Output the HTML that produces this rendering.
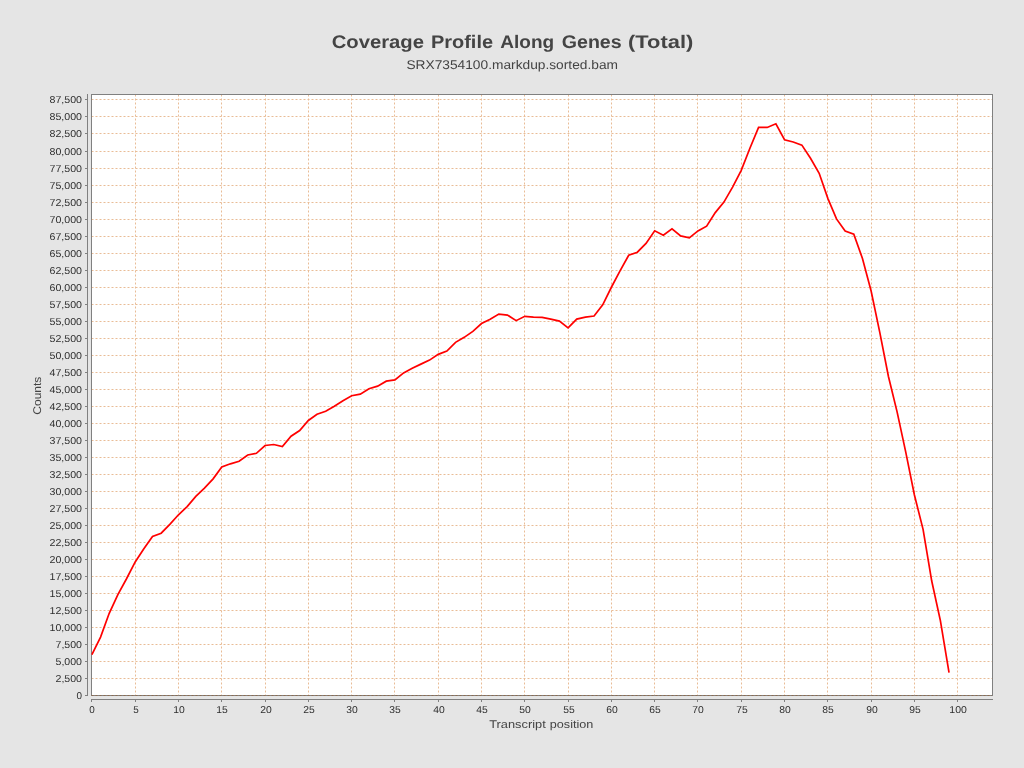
<!DOCTYPE html>
<html><head><meta charset="utf-8"><style>
html,body{margin:0;padding:0;width:1024px;height:768px;overflow:hidden;background:#e5e5e5;}
svg text{font-family:"Liberation Sans", sans-serif;text-rendering:geometricPrecision;}
</style></head><body>
<svg width="1024" height="768" viewBox="0 0 1024 768" style="position:absolute;left:0;top:0;will-change:transform"><rect x="91" y="94" width="902" height="602" fill="#ffffff"/><path d="M91.5 678.5H992 M91.5 661.5H992 M91.5 644.5H992 M91.5 627.5H992 M91.5 610.5H992 M91.5 593.5H992 M91.5 576.5H992 M91.5 559.5H992 M91.5 542.5H992 M91.5 525.5H992 M91.5 508.5H992 M91.5 491.5H992 M91.5 474.5H992 M91.5 457.5H992 M91.5 440.5H992 M91.5 423.5H992 M91.5 406.5H992 M91.5 389.5H992 M91.5 372.5H992 M91.5 355.5H992 M91.5 338.5H992 M91.5 321.5H992 M91.5 304.5H992 M91.5 287.5H992 M91.5 270.5H992 M91.5 253.5H992 M91.5 236.5H992 M91.5 219.5H992 M91.5 202.5H992 M91.5 185.5H992 M91.5 168.5H992 M91.5 151.5H992 M91.5 133.5H992 M91.5 116.5H992 M91.5 99.5H992" stroke="#e9bc96" stroke-width="1" stroke-dasharray="2 2" fill="none"/><path d="M135.5 94.5V695 M178.5 94.5V695 M221.5 94.5V695 M265.5 94.5V695 M308.5 94.5V695 M351.5 94.5V695 M394.5 94.5V695 M438.5 94.5V695 M481.5 94.5V695 M524.5 94.5V695 M568.5 94.5V695 M611.5 94.5V695 M654.5 94.5V695 M697.5 94.5V695 M741.5 94.5V695 M784.5 94.5V695 M827.5 94.5V695 M871.5 94.5V695 M914.5 94.5V695 M957.5 94.5V695" stroke="#e9bc96" stroke-width="1" stroke-dasharray="2 2" fill="none"/><path d="M91.5 94.5H992.5V695.5H91.5Z" stroke="#808080" stroke-width="1" fill="none" shape-rendering="crispEdges"/><path d="M91.5 695.5H992" stroke="#8e6c50" stroke-width="1" stroke-dasharray="2 2" fill="none"/><path d="M87.5 94V696 M91 699.5H993 M85 695.5H87 M85 678.5H87 M85 661.5H87 M85 644.5H87 M85 627.5H87 M85 610.5H87 M85 593.5H87 M85 576.5H87 M85 559.5H87 M85 542.5H87 M85 525.5H87 M85 508.5H87 M85 491.5H87 M85 474.5H87 M85 457.5H87 M85 440.5H87 M85 423.5H87 M85 406.5H87 M85 389.5H87 M85 372.5H87 M85 355.5H87 M85 338.5H87 M85 321.5H87 M85 304.5H87 M85 287.5H87 M85 270.5H87 M85 253.5H87 M85 236.5H87 M85 219.5H87 M85 202.5H87 M85 185.5H87 M85 168.5H87 M85 151.5H87 M85 133.5H87 M85 116.5H87 M85 99.5H87 M91.5 699V702 M135.5 699V702 M178.5 699V702 M221.5 699V702 M265.5 699V702 M308.5 699V702 M351.5 699V702 M394.5 699V702 M438.5 699V702 M481.5 699V702 M524.5 699V702 M568.5 699V702 M611.5 699V702 M654.5 699V702 M697.5 699V702 M741.5 699V702 M784.5 699V702 M827.5 699V702 M871.5 699V702 M914.5 699V702 M957.5 699V702" stroke="#808080" stroke-width="1" fill="none" shape-rendering="crispEdges"/><polyline points="91.90,654.65 100.56,637.11 109.22,613.33 117.87,594.54 126.53,578.76 135.19,561.98 143.85,548.71 152.51,536.43 161.16,533.18 169.82,524.31 178.48,514.77 187.14,506.60 195.80,496.37 204.45,488.10 213.11,478.84 221.77,467.07 230.43,463.81 239.09,461.30 247.74,455.04 256.40,453.29 265.06,445.53 273.72,444.53 282.38,446.53 291.03,436.26 299.69,430.51 308.35,420.49 317.01,414.23 325.67,411.22 334.32,406.21 342.98,400.70 351.64,395.69 360.30,394.19 368.96,388.68 377.61,386.17 386.27,381.17 394.93,379.91 403.59,372.90 412.25,368.31 420.90,364.14 429.56,360.12 438.22,354.37 446.88,351.11 455.54,342.35 464.19,337.34 472.85,331.33 481.51,323.56 490.17,319.31 498.83,314.05 507.48,315.04 516.14,320.64 524.80,316.28 533.46,317.05 542.12,317.30 550.77,319.06 559.43,321.06 568.09,327.82 576.75,319.06 585.41,317.05 594.06,316.05 602.72,304.78 611.38,287.25 620.04,270.97 628.70,255.23 637.35,252.19 646.01,243.42 654.67,230.78 663.33,235.16 671.99,228.90 680.64,235.91 689.30,237.91 697.96,230.90 706.62,226.14 715.28,212.62 723.93,202.10 732.59,187.07 741.25,170.29 749.91,148.26 758.57,127.47 767.22,127.47 775.88,123.76 784.54,139.74 793.20,142.02 801.86,145.10 810.51,158.27 819.17,173.30 827.83,198.35 836.49,218.88 845.15,231.05 853.80,234.25 862.46,258.50 871.12,291.00 879.78,332.45 888.44,376.49 897.09,411.91 905.75,452.10 914.41,495.02 923.07,529.31 931.73,581.05 940.38,620.59 949.04,672.56" fill="none" stroke="#ff0000" stroke-width="1.7" stroke-linejoin="miter" stroke-linecap="butt"/><g font-family="Liberation Sans, sans-serif" font-size="10" fill="#2e2e2e"><text x="82" y="699.15" text-anchor="end" textLength="5.50" lengthAdjust="spacingAndGlyphs">0</text><text x="82" y="682.15" text-anchor="end" textLength="26.50" lengthAdjust="spacingAndGlyphs">2,500</text><text x="82" y="665.15" text-anchor="end" textLength="26.50" lengthAdjust="spacingAndGlyphs">5,000</text><text x="82" y="648.15" text-anchor="end" textLength="26.50" lengthAdjust="spacingAndGlyphs">7,500</text><text x="82" y="631.15" text-anchor="end" textLength="32.50" lengthAdjust="spacingAndGlyphs">10,000</text><text x="82" y="614.15" text-anchor="end" textLength="32.50" lengthAdjust="spacingAndGlyphs">12,500</text><text x="82" y="597.15" text-anchor="end" textLength="32.50" lengthAdjust="spacingAndGlyphs">15,000</text><text x="82" y="580.15" text-anchor="end" textLength="32.50" lengthAdjust="spacingAndGlyphs">17,500</text><text x="82" y="563.15" text-anchor="end" textLength="32.50" lengthAdjust="spacingAndGlyphs">20,000</text><text x="82" y="546.15" text-anchor="end" textLength="32.50" lengthAdjust="spacingAndGlyphs">22,500</text><text x="82" y="529.15" text-anchor="end" textLength="32.50" lengthAdjust="spacingAndGlyphs">25,000</text><text x="82" y="512.15" text-anchor="end" textLength="32.50" lengthAdjust="spacingAndGlyphs">27,500</text><text x="82" y="495.15" text-anchor="end" textLength="32.50" lengthAdjust="spacingAndGlyphs">30,000</text><text x="82" y="478.15" text-anchor="end" textLength="32.50" lengthAdjust="spacingAndGlyphs">32,500</text><text x="82" y="461.15" text-anchor="end" textLength="32.50" lengthAdjust="spacingAndGlyphs">35,000</text><text x="82" y="444.15" text-anchor="end" textLength="32.50" lengthAdjust="spacingAndGlyphs">37,500</text><text x="82" y="427.15" text-anchor="end" textLength="32.50" lengthAdjust="spacingAndGlyphs">40,000</text><text x="82" y="410.15" text-anchor="end" textLength="32.50" lengthAdjust="spacingAndGlyphs">42,500</text><text x="82" y="393.15" text-anchor="end" textLength="32.50" lengthAdjust="spacingAndGlyphs">45,000</text><text x="82" y="376.15" text-anchor="end" textLength="32.50" lengthAdjust="spacingAndGlyphs">47,500</text><text x="82" y="359.15" text-anchor="end" textLength="32.50" lengthAdjust="spacingAndGlyphs">50,000</text><text x="82" y="342.15" text-anchor="end" textLength="32.50" lengthAdjust="spacingAndGlyphs">52,500</text><text x="82" y="325.15" text-anchor="end" textLength="32.50" lengthAdjust="spacingAndGlyphs">55,000</text><text x="82" y="308.15" text-anchor="end" textLength="32.50" lengthAdjust="spacingAndGlyphs">57,500</text><text x="82" y="291.15" text-anchor="end" textLength="32.50" lengthAdjust="spacingAndGlyphs">60,000</text><text x="82" y="274.15" text-anchor="end" textLength="32.50" lengthAdjust="spacingAndGlyphs">62,500</text><text x="82" y="257.15" text-anchor="end" textLength="32.50" lengthAdjust="spacingAndGlyphs">65,000</text><text x="82" y="240.15" text-anchor="end" textLength="32.50" lengthAdjust="spacingAndGlyphs">67,500</text><text x="82" y="223.15" text-anchor="end" textLength="32.50" lengthAdjust="spacingAndGlyphs">70,000</text><text x="82" y="206.15" text-anchor="end" textLength="32.50" lengthAdjust="spacingAndGlyphs">72,500</text><text x="82" y="189.15" text-anchor="end" textLength="32.50" lengthAdjust="spacingAndGlyphs">75,000</text><text x="82" y="172.15" text-anchor="end" textLength="32.50" lengthAdjust="spacingAndGlyphs">77,500</text><text x="82" y="155.15" text-anchor="end" textLength="32.50" lengthAdjust="spacingAndGlyphs">80,000</text><text x="82" y="137.15" text-anchor="end" textLength="32.50" lengthAdjust="spacingAndGlyphs">82,500</text><text x="82" y="120.15" text-anchor="end" textLength="32.50" lengthAdjust="spacingAndGlyphs">85,000</text><text x="82" y="103.15" text-anchor="end" textLength="32.50" lengthAdjust="spacingAndGlyphs">87,500</text><text x="92.10" y="712.8" text-anchor="middle" textLength="5.50" lengthAdjust="spacingAndGlyphs">0</text><text x="136.10" y="712.8" text-anchor="middle" textLength="5.50" lengthAdjust="spacingAndGlyphs">5</text><text x="179.10" y="712.8" text-anchor="middle" textLength="11.50" lengthAdjust="spacingAndGlyphs">10</text><text x="222.10" y="712.8" text-anchor="middle" textLength="11.50" lengthAdjust="spacingAndGlyphs">15</text><text x="266.10" y="712.8" text-anchor="middle" textLength="11.50" lengthAdjust="spacingAndGlyphs">20</text><text x="309.10" y="712.8" text-anchor="middle" textLength="11.50" lengthAdjust="spacingAndGlyphs">25</text><text x="352.10" y="712.8" text-anchor="middle" textLength="11.50" lengthAdjust="spacingAndGlyphs">30</text><text x="395.10" y="712.8" text-anchor="middle" textLength="11.50" lengthAdjust="spacingAndGlyphs">35</text><text x="439.10" y="712.8" text-anchor="middle" textLength="11.50" lengthAdjust="spacingAndGlyphs">40</text><text x="482.10" y="712.8" text-anchor="middle" textLength="11.50" lengthAdjust="spacingAndGlyphs">45</text><text x="525.10" y="712.8" text-anchor="middle" textLength="11.50" lengthAdjust="spacingAndGlyphs">50</text><text x="569.10" y="712.8" text-anchor="middle" textLength="11.50" lengthAdjust="spacingAndGlyphs">55</text><text x="612.10" y="712.8" text-anchor="middle" textLength="11.50" lengthAdjust="spacingAndGlyphs">60</text><text x="655.10" y="712.8" text-anchor="middle" textLength="11.50" lengthAdjust="spacingAndGlyphs">65</text><text x="698.10" y="712.8" text-anchor="middle" textLength="11.50" lengthAdjust="spacingAndGlyphs">70</text><text x="742.10" y="712.8" text-anchor="middle" textLength="11.50" lengthAdjust="spacingAndGlyphs">75</text><text x="785.10" y="712.8" text-anchor="middle" textLength="11.50" lengthAdjust="spacingAndGlyphs">80</text><text x="828.10" y="712.8" text-anchor="middle" textLength="11.50" lengthAdjust="spacingAndGlyphs">85</text><text x="872.10" y="712.8" text-anchor="middle" textLength="11.50" lengthAdjust="spacingAndGlyphs">90</text><text x="915.10" y="712.8" text-anchor="middle" textLength="11.50" lengthAdjust="spacingAndGlyphs">95</text><text x="958.10" y="712.8" text-anchor="middle" textLength="17.50" lengthAdjust="spacingAndGlyphs">100</text></g><text font-family="Liberation Sans, sans-serif" font-size="18.2" font-weight="bold" fill="#444444" x="331.75" y="48" textLength="92.26" lengthAdjust="spacingAndGlyphs">Coverage</text><text font-family="Liberation Sans, sans-serif" font-size="18.2" font-weight="bold" fill="#444444" x="431.00" y="48" textLength="62.02" lengthAdjust="spacingAndGlyphs">Profile</text><text font-family="Liberation Sans, sans-serif" font-size="18.2" font-weight="bold" fill="#444444" x="500.30" y="48" textLength="53.83" lengthAdjust="spacingAndGlyphs">Along</text><text font-family="Liberation Sans, sans-serif" font-size="18.2" font-weight="bold" fill="#444444" x="561.75" y="48" textLength="59.88" lengthAdjust="spacingAndGlyphs">Genes</text><text font-family="Liberation Sans, sans-serif" font-size="18.2" font-weight="bold" fill="#444444" x="628.10" y="48" textLength="65.17" lengthAdjust="spacingAndGlyphs">(Total)</text><text font-family="Liberation Sans, sans-serif" font-size="12.6" font-weight="normal" fill="#444444" x="406.40" y="68.9" textLength="211.61" lengthAdjust="spacingAndGlyphs">SRX7354100.markdup.sorted.bam</text><text font-family="Liberation Sans, sans-serif" font-size="11.2" font-weight="normal" fill="#444444" x="489.20" y="728" textLength="56.53" lengthAdjust="spacingAndGlyphs">Transcript</text><text font-family="Liberation Sans, sans-serif" font-size="11.2" font-weight="normal" fill="#444444" x="549.80" y="728" textLength="43.55" lengthAdjust="spacingAndGlyphs">position</text><text font-family="Liberation Sans, sans-serif" font-size="11.2" fill="#444444" transform="translate(41.3 395.7) rotate(-90)" x="0" y="0" text-anchor="middle" textLength="38" lengthAdjust="spacingAndGlyphs">Counts</text></svg>
</body></html>
